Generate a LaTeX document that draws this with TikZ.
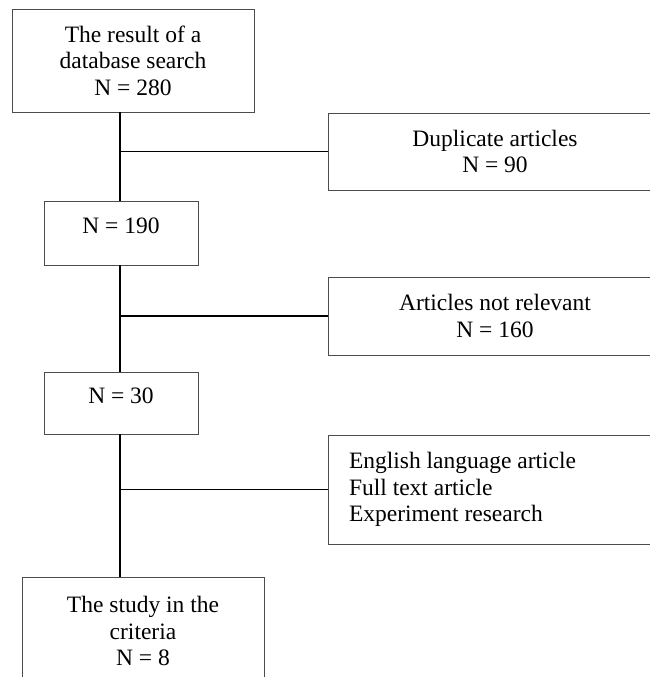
\documentclass[tikz,border=0pt]{standalone}
\usepackage{fontspec}
\setmainfont{Liberation Serif}
\usepackage{tikz}

\begin{document}
\begin{tikzpicture}[x=1pt, y=-1pt,
  box/.style={draw=black!70, line width=0.8pt, align=center, inner sep=0pt, font=\fontsize{23.5}{26.5}\selectfont},
  single/.style={text height=16pt, text depth=16pt},
  link/.style={line width=1.5pt}]
\useasboundingbox (0,0) rectangle (649,677);
\node [box, minimum width=242pt, minimum height=103pt] (search) at (133,60.5) {The result of a\\database search\\N = 280};
\node [box, minimum width=334pt, minimum height=77pt] (dup) at (495,151.5) {Duplicate articles\\N = 90};
\node [box, single, minimum width=154pt, minimum height=64pt] (n190) at (121,233) {N = 190};
\node [box, minimum width=334pt, minimum height=78pt] (notrel) at (495,316) {Articles not relevant\\N = 160};
\node [box, single, minimum width=154pt, minimum height=62pt] (n30) at (121,403) {N = 30};
\node [box, align=flush left, text width=292pt, inner xsep=21pt, minimum height=109pt] (crit) at (495,489.5) {English language article\\Full text article\\Experiment research};
\node [box, minimum width=242pt, minimum height=108pt] (study) at (143,631) {The study in the\\criteria\\N = 8};
\coordinate (spine) at (120,0);
\draw [link] (search.south -| spine) -- (n190.north -| spine);
\draw [link] (n190.south -| spine) -- (n30.north -| spine);
\draw [link] (n30.south -| spine) -- (study.north -| spine);
\draw [link] (spine |- dup.west) -- (dup.west);
\draw [link] (spine |- notrel.west) -- (notrel.west);
\draw [link] (spine |- crit.west) -- (crit.west);
\end{tikzpicture}
\end{document}
